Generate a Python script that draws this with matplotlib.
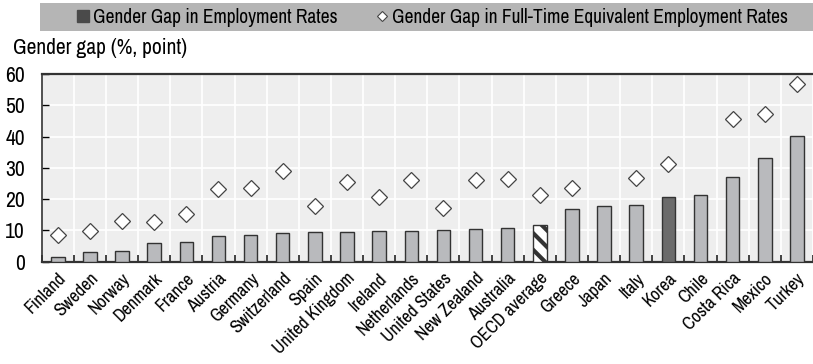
import matplotlib as mpl
mpl.use('Agg')
import matplotlib.pyplot as plt
from matplotlib.patches import Rectangle
from matplotlib.lines import Line2D
import numpy as np

plt.rcParams['font.family'] = ['Archivo Narrow', 'PT Sans Narrow', 'Liberation Sans', 'DejaVu Sans']
plt.rcParams['hatch.linewidth'] = 3.0

## Data

countries = ['Finland', 'Sweden', 'Norway', 'Denmark', 'France', 'Austria', 'Germany',
             'Switzerland', 'Spain', 'United Kingdom', 'Ireland', 'Netherlands',
             'United States', 'New Zealand', 'Australia', 'OECD average', 'Greece',
             'Japan', 'Italy', 'Korea', 'Chile', 'Costa Rica', 'Mexico', 'Turkey']
emp_gap = [1.6, 3.2, 3.5, 5.9, 6.4, 8.2, 8.6, 9.1, 9.5, 9.5, 9.8, 9.8,
           10.2, 10.5, 10.9, 11.7, 16.8, 17.9, 18.2, 20.8, 21.2, 27.0, 33.3, 40.1]
fte_gap = [8.5, 9.8, 13.1, 12.7, 15.4, 23.4, 23.7, 29.1, 17.9, 25.6, 20.8, 26.2,
           17.2, 26.2, 26.6, 21.5, 23.5, np.nan, 26.7, 31.3, np.nan, 45.6, 47.3, 57.0]
highlight = 'Korea'
average = 'OECD average'

## Plot

fig = plt.figure(figsize=(8.13, 3.64), dpi=100)
ax = fig.add_axes([0.0513, 0.281, 0.9487, 0.515])
ax.set_facecolor('#eeeeee')

x = np.arange(len(countries))
colors = ['#6b6b6b' if c == highlight else ('white' if c == average else '#b9babd')
          for c in countries]
bars = ax.bar(x, emp_gap, width=0.42, color=colors, edgecolor='#333333', linewidth=1.0, zorder=3)
bars[countries.index(average)].set_hatch('\\\\')

ax.plot(x, fte_gap, linestyle='none', marker='D', markersize=8.5, markerfacecolor='white',
        markeredgecolor='#444444', markeredgewidth=0.9, zorder=4)

ax.set_xlim(-0.5, len(countries) - 0.5)
ax.set_ylim(0, 60)
ax.set_yticks(range(0, 61, 10))
ax.set_xticks(x)
ax.set_xticklabels(countries, rotation=45, ha='right', rotation_mode='anchor', fontsize=13)
ax.set_xticks(np.arange(-0.5, len(countries)), minor=True)
ax.tick_params(axis='x', which='major', length=0, pad=6)
ax.tick_params(axis='x', which='minor', direction='in', length=5, width=1.2, color='#222222')
ax.tick_params(axis='y', direction='in', length=5, width=1.0, labelsize=15.5, pad=12)

ax.grid(True, which='minor', axis='x', color='white', linewidth=1.2, zorder=0)
ax.grid(True, which='major', axis='y', color='white', linewidth=1.2, zorder=0)
ax.set_axisbelow(True)

for side in ['top', 'left', 'bottom']:
    ax.spines[side].set_color('#333333')
ax.spines['top'].set_linewidth(1.6)
ax.spines['bottom'].set_linewidth(1.6)
ax.spines['left'].set_linewidth(1.2)
ax.spines['right'].set_visible(False)

fig.text(0.016, 0.868, 'Gender gap (%, point)', fontsize=15.5, va='center', ha='left')

# legend band
fig.patches.append(Rectangle((0.049, 0.915), 0.951, 0.077, transform=fig.transFigure,
                             facecolor='#b5b5b5', edgecolor='none', zorder=0))
handles = [Line2D([], [], linestyle='none', marker='s', markersize=8, markerfacecolor='#4a4a4a',
                  markeredgecolor='#4a4a4a'),
           Line2D([], [], linestyle='none', marker='D', markersize=5.5, markerfacecolor='white',
                  markeredgecolor='#444444', markeredgewidth=0.8)]
fig.legend(handles, ['Gender Gap in Employment Rates',
                     'Gender Gap in Full-Time Equivalent Employment Rates'],
           loc='center', bbox_to_anchor=(0.531, 0.953), ncol=2, frameon=False, fontsize=14,
           handletextpad=0.1, columnspacing=1.9, handlelength=0.8)

fig.savefig('out.png', dpi=100)
